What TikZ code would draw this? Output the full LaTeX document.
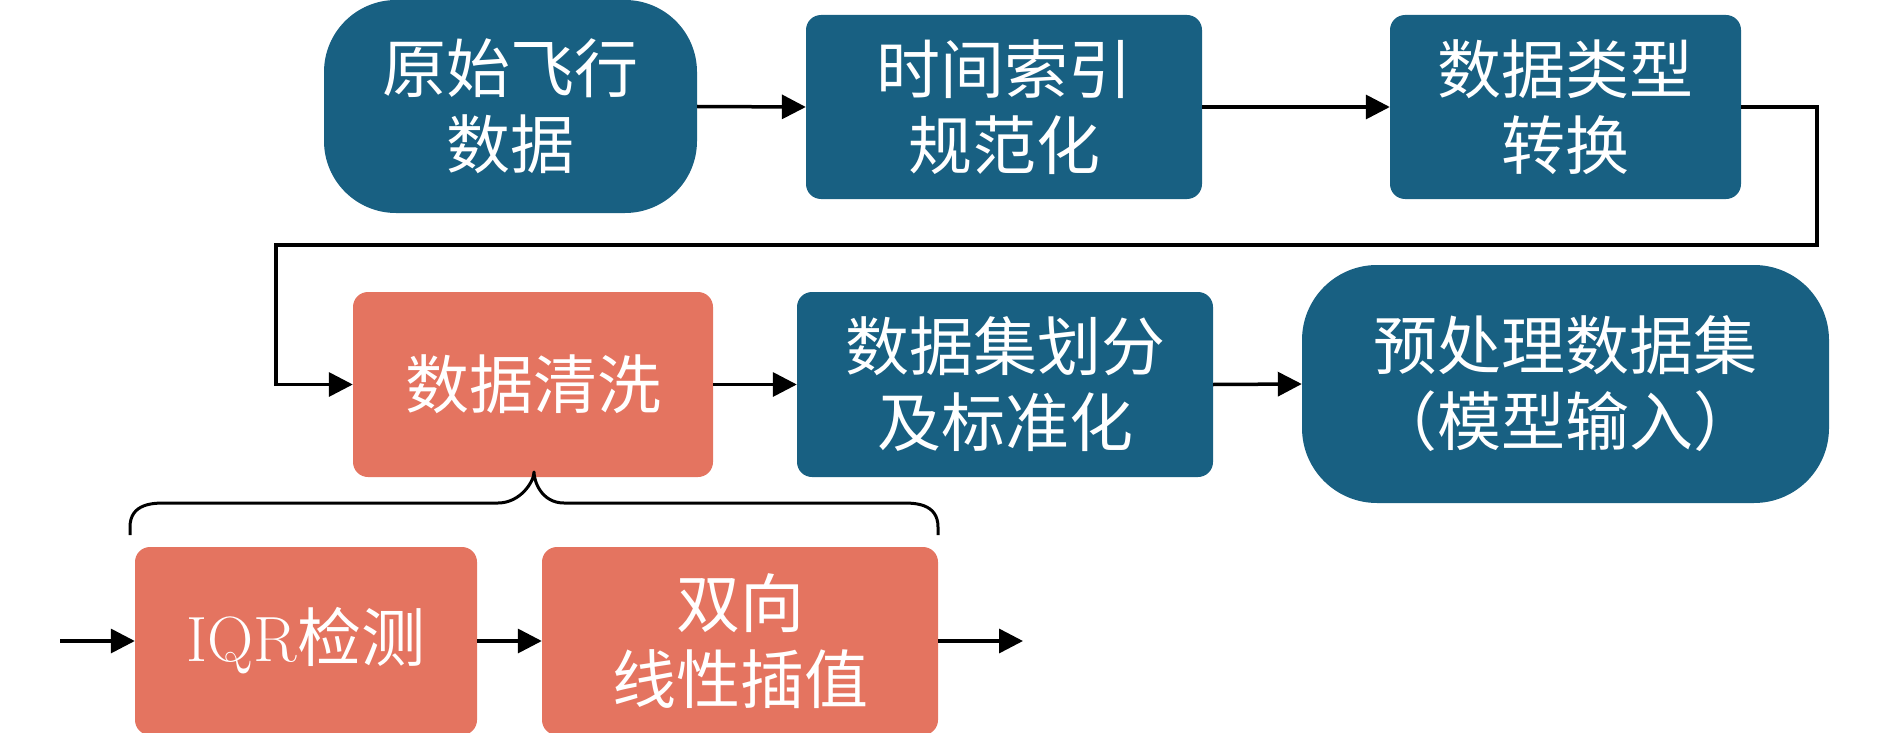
\documentclass[tikz,border=0pt]{standalone}
\usepackage{fontspec}
\newfontfamily\cjk{Noto Sans CJK SC}
\usetikzlibrary{arrows.meta}
\definecolor{boxblue}{RGB}{24,96,130}
\definecolor{boxorange}{RGB}{228,116,96}
\begin{document}
\begin{tikzpicture}[x=1pt,y=-1pt,
  proc/.style={fill=boxblue,text=white,rounded corners=15pt,align=center,inner sep=0pt,
    font=\cjk\fontsize{64}{76}\selectfont},
  blueproc/.style={proc,fill=boxblue},
  redproc/.style={proc,fill=boxorange},
  terminal/.style={proc,fill=boxblue,rounded corners=72pt},
  conn/.style={line width=3.5pt,-{Triangle[length=24pt,width=24pt]}},
  bracestyle/.style={line width=3pt,line join=round}]
\useasboundingbox (0,0) rectangle (1890,733);
\node[terminal,minimum width=373pt,minimum height=213pt] (n1) at (510.5,106.5) {原始飞行\\数据};
\node[blueproc,minimum width=396pt,minimum height=184pt] (n2) at (1004,107) {时间索引\\规范化};
\node[blueproc,minimum width=351pt,minimum height=184pt] (n3) at (1565.5,107) {数据类型\\转换};
\node[redproc,minimum width=360pt,minimum height=185pt] (n4) at (533,384.5) {数据清洗};
\node[blueproc,minimum width=416pt,minimum height=185pt] (n5) at (1005,384.5) {数据集划分\\及标准化};
\node[terminal,minimum width=527pt,minimum height=238pt,rounded corners=75pt] (n6) at (1565.5,384) {预处理数据集\\（模型输入）};
\node[redproc,minimum width=342pt,minimum height=188pt] (n7) at (306,641) {{\rmfamily IQR}检测};
\node[redproc,minimum width=396pt,minimum height=188pt] (n8) at (740,641) {双向\\线性插值};
\coordinate (ra) at (1817,245);
\coordinate (la) at (276,245);
\coordinate (in) at (60,641);
\coordinate (out) at (1023,641);
\coordinate (bl) at (130,535);
\coordinate (br) at (938,535);
\coordinate (tip) at (534,472);
\draw[conn] (n1.east) -- (n2.west);
\draw[conn] (n2.east) -- (n3.west);
\draw[conn] (n3.east) -| (ra) -- (la) |- (n4.west);
\draw[conn] (n4.east) -- (n5.west);
\draw[conn] (n5.east) -- (n6.west);
\draw[conn] (in) -- (n7.west);
\draw[conn] (n7.east) -- (n8.west);
\draw[conn] (n8.east) -- (out);
\draw[bracestyle] (bl) -- ++(0,-8) .. controls ++(0,-24) and ++(-12,0) .. ++(36,-24)
  -- ++(332,0) .. controls ++(22,0) and ++(0,10) .. (tip)
  .. controls ++(0,10) and ++(-22,0) .. ++(30,31)
  -- ++(338,0) .. controls ++(12,0) and ++(0,-24) .. ++(36,24) -- (br);
\end{tikzpicture}
\end{document}
